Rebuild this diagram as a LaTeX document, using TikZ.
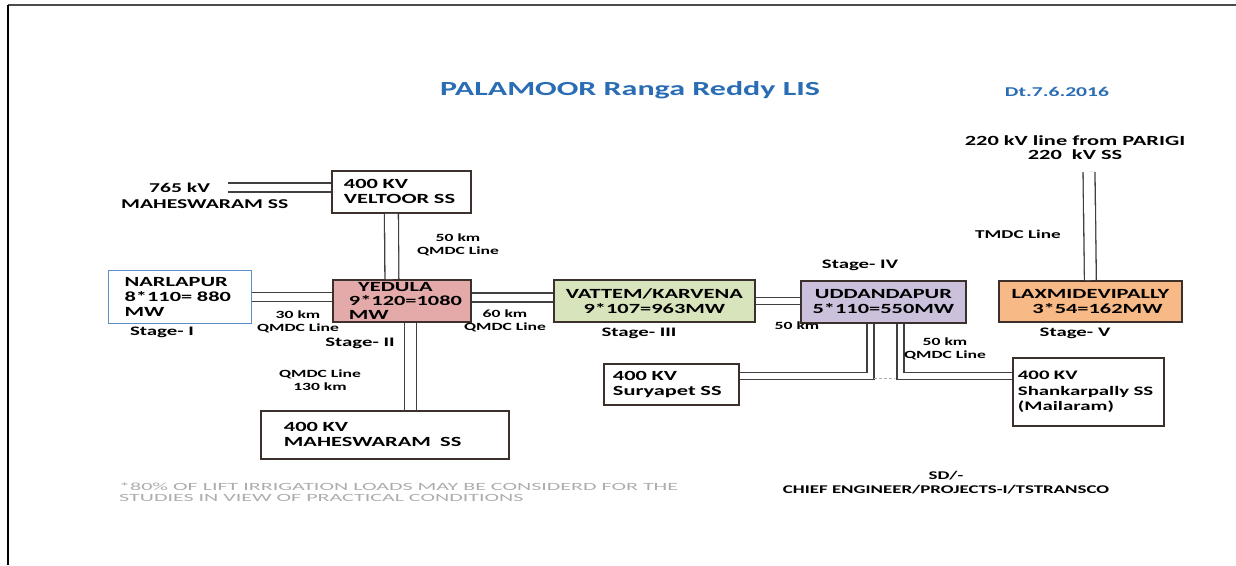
\documentclass[tikz,border=0pt]{standalone}
\usepackage{fontspec}
\setmainfont{Carlito}[FakeStretch=1.6]
\newfontfamily\notefont{Carlito}[FakeStretch=2.0]
\usetikzlibrary{positioning, calc}
\definecolor{ctitle}{HTML}{2A6DB5}
\definecolor{cpink}{HTML}{E3AAA9}
\definecolor{cgreen}{HTML}{D8E4BC}
\definecolor{clilac}{HTML}{CBC1DC}
\definecolor{corange}{HTML}{F7B985}
\definecolor{cedge}{HTML}{3B302B}
\definecolor{cnarl}{HTML}{5C8FCA}
\definecolor{cnote}{HTML}{ADADAD}
\newcommand\boxfont{\bfseries\fontsize{14}{15}\selectfont}
\newcommand\labfont{\bfseries\fontsize{11}{12.5}\selectfont}
\newcommand\stagefont{\bfseries\fontsize{13}{15}\selectfont}
\tikzset{
  station/.style={draw=cedge, line width=1.8pt, anchor=north west, inner ysep=0pt, align=left, font=\boxfont},
  bus/.style={draw=black!75, line width=1.3pt, double=white, double distance=#1},
  bus/.default=7.6pt,
  lbl/.style={font=\labfont, align=center, inner sep=1pt},
  stage/.style={font=\stagefont, inner sep=1pt},
}

\begin{document}
\begin{tikzpicture}[x=1pt, y=-1pt]
  \useasboundingbox (0,0) rectangle (1236,565);
  % frame
  \draw[black!70, line width=2pt] (8,5) -- (1236,5);
  \draw[black, line width=2pt] (8,5) -- (8,565);
  \node[font=\bfseries\fontsize{20}{22}\selectfont, text=ctitle] (title) at (630,90) {PALAMOOR Ranga Reddy LIS};
  \node[font=\bfseries\fontsize{13.5}{15}\selectfont, text=ctitle] (date) at (1057,92) {Dt.7.6.2016};

  % stations
  \node[station, minimum width=139pt, minimum height=42pt, inner xsep=12pt, text width=115pt] (veltoor) at (331,170) {400 KV\\VELTOOR SS};
  \node[station, draw=cnarl, line width=1.2pt, minimum width=143pt, minimum height=53pt, inner xsep=16pt, text width=111pt] (narlapur) at (108,270) {NARLAPUR\\8*110= 880\\MW};
  \node[station, fill=cpink, minimum width=138pt, minimum height=42pt, inner xsep=16pt, text width=106pt, font=\bfseries\fontsize{14}{14}\selectfont] (yedula) at (332,279) {\ \ YEDULA\\9*120=1080\\MW};
  \node[station, minimum width=248pt, minimum height=48pt, inner xsep=23pt, text width=202pt] (mah400) at (260,410) {400 KV\\MAHESWARAM\ \ SS};
  \node[station, fill=cgreen, align=center, minimum width=201pt, minimum height=42pt, inner xsep=8pt, text width=185pt] (vattem) at (553,279) {VATTEM/KARVENA\\9*107=963MW};
  \node[station, fill=clilac, align=center, minimum width=165pt, minimum height=42pt, inner xsep=6pt, text width=153pt] (udd) at (800,280) {UDDANDAPUR\\5*110=550MW};
  \node[station, minimum width=135pt, minimum height=41pt, inner xsep=9pt, text width=117pt] (suryapet) at (603,363) {400 KV\\Suryapet SS};
  \node[station, minimum width=151pt, minimum height=68pt, inner xsep=5pt, text width=141pt, font=\bfseries\fontsize{13}{15.5}\selectfont] (shankar) at (1012,357) {400 KV\\Shankarpally~SS\\(Mailaram)};
  \node[station, fill=corange, align=center, minimum width=183pt, minimum height=41pt, inner xsep=8pt, text width=167pt] (laxmi) at (998,280) {LAXMIDEVIPALLY\\\ \ \ 3*54=162MW};

  % sources
  \node[lbl, anchor=west, align=left, font=\bfseries\fontsize{13.5}{16}\selectfont] (mah765) at (120,196) {\hspace*{28pt}765 kV\\MAHESWARAM SS};
  \coordinate (k765) at (228,187.5);
  \node[lbl, font=\bfseries\fontsize{14}{14}\selectfont] (parigi) at (1075,148) {220 kV line from PARIGI\\220\ \ kV SS};
  \coordinate (kparigi) at (1089,172);

  % lines
  \draw[bus] (k765) -- (k765 -| veltoor.west);
  \draw[bus=12.6pt] ([xshift=-10pt]veltoor.south) -- ([xshift=-10pt]yedula.north);
  \draw[bus] (narlapur.east) -- (narlapur.east -| yedula.west);
  \draw[bus] ([yshift=3.5pt]yedula.east) -- ([yshift=3.5pt]vattem.west);
  \draw[bus=10.6pt] ([xshift=8.5pt]yedula.south) -- ([xshift=8.5pt]yedula.south |- mah400.north);
  \draw[bus=5.7pt] (vattem.east) -- (vattem.east -| udd.west);
  \draw[bus=5.7pt] ([xshift=-13pt]udd.south) |- ([yshift=8.5pt]suryapet.east);
  \draw[bus=5.7pt] ([xshift=17pt]udd.south) |- ([yshift=16pt]shankar.west);
  \draw[densely dashed, cnote, line width=1pt] (874,378.5) -- (895,378.5);
  \draw[bus=10.6pt] (kparigi) -- (laxmi.north);

  % labels
  \node[lbl] (l50a) at (458,245) {50 km\\QMDC Line};
  \node[lbl] (l30) at (298,322) {30 km\\QMDC Line};
  \node[lbl] (l130) at (320,380) {QMDC Line\\130 km};
  \node[lbl] (l60) at (505,321) {60 km\\QMDC Line};
  \node[lbl] (l50b) at (797,326) {50 km};
  \node[lbl] (l50c) at (945,349) {50 km\\QMDC Line};
  \node[lbl, font=\bfseries\fontsize{12}{14}\selectfont] (ltmdc) at (1018,234) {TMDC Line};
  \node[stage] (s1) at (162,332) {Stage- I};
  \node[stage] (s2) at (360,343) {Stage- II};
  \node[stage] (s3) at (639,333) {Stage- III};
  \node[stage] (s4) at (860,265) {Stage- IV};
  \node[stage] (s5) at (1075,333) {Stage- V};

  % notes
  \node[anchor=north west, align=left, text=cnote, inner sep=0pt, font=\notefont\fontsize{11}{11.5}\selectfont] (note) at (119,482) {*80\% OF LIFT IRRIGATION LOADS MAY BE CONSIDERD FOR THE\\STUDIES IN VIEW OF PRACTICAL CONDITIONS};
  \node[lbl, font=\bfseries\fontsize{11.8}{14}\selectfont] (sign) at (946,483) {SD/-\\CHIEF ENGINEER/PROJECTS-I/TSTRANSCO};
\end{tikzpicture}
\end{document}
